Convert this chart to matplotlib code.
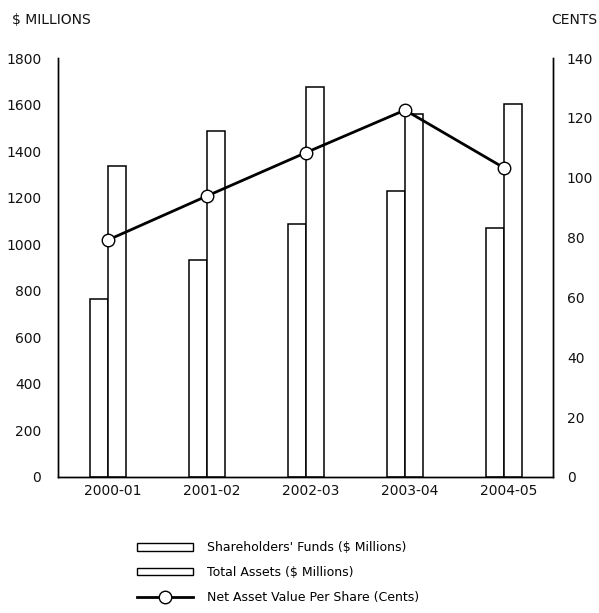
import matplotlib
matplotlib.use("Agg")
import matplotlib.pyplot as plt
import numpy as np
from matplotlib.patches import Patch
from matplotlib.lines import Line2D

years = ["2000-01", "2001-02", "2002-03", "2003-04", "2004-05"]
shareholders_funds = [765, 932, 1087, 1229, 1070]
total_assets = [1336, 1488, 1677, 1558, 1601]
nav_cents = [79.2, 93.9, 108.4, 122.6, 103.3]
left_ticks = [0, 200, 400, 600, 800, 1000, 1200, 1400, 1600, 1800]
right_ticks = [0, 20, 40, 60, 80, 100, 120, 140]

plt.rcParams['font.family'] = ['DejaVu Sans']
fig = plt.figure(figsize=(5.99, 6.13), dpi=100)
ax = fig.add_axes([58/599, 1-477/613, (553-58)/599, (477-58)/613])

x = np.arange(len(years))
w = 0.18
ax.bar(x - w/2, shareholders_funds, width=w, color='white', edgecolor='black', linewidth=1.1, zorder=2)
ax.bar(x + w/2, total_assets, width=w, color='white', edgecolor='black', linewidth=1.1, zorder=3)
ax.set_xlim(-0.505, 4.495)
ax.set_ylim(0, 1800)
ax.set_yticks(left_ticks)
ax.set_xticks(x + 0.05)
ax.set_xticklabels(years)
ax.tick_params(axis='both', length=0, labelsize=10, colors='#111111')
ax.tick_params(axis='y', pad=12)
ax.tick_params(axis='x', pad=5)
ax.spines['top'].set_visible(False)
for s in ['left', 'right', 'bottom']:
    ax.spines[s].set_linewidth(1.0)

ax2 = ax.twinx()
ax2.plot(x, nav_cents, color='black', linewidth=2, marker='o', markersize=9,
         markerfacecolor='white', markeredgecolor='black', markeredgewidth=1.0, zorder=5)
ax2.set_ylim(0, 140)
ax2.set_yticks(right_ticks)
ax2.tick_params(axis='y', length=0, labelsize=10, pad=10, colors='#111111')
ax2.spines['top'].set_visible(False)
for s in ['left', 'right', 'bottom']:
    ax2.spines[s].set_linewidth(1.0)

fig.text(12/599, 1-20/613, "$ MILLIONS", fontsize=10, ha='left', va='center', color='#111111')
fig.text(597/599, 1-20/613, "CENTS", fontsize=10, ha='right', va='center', color='#111111')

handles = [
    Patch(facecolor='white', edgecolor='black', linewidth=1.0),
    Patch(facecolor='white', edgecolor='black', linewidth=1.0),
    Line2D([0], [0], color='black', linewidth=2, marker='o', markersize=9,
           markerfacecolor='white', markeredgecolor='black'),
]
labels = ["Shareholders' Funds ($ Millions)", "Total Assets ($ Millions)",
          "Net Asset Value Per Share (Cents)"]
fig.legend(handles, labels, loc='upper left', bbox_to_anchor=(137/599, 1-541/613),
           frameon=False, fontsize=9, handlelength=4.5, handleheight=0.6,
           labelspacing=0.95, handletextpad=1.1, borderpad=0, borderaxespad=0)

fig.savefig("out.png", dpi=100, facecolor='white')
